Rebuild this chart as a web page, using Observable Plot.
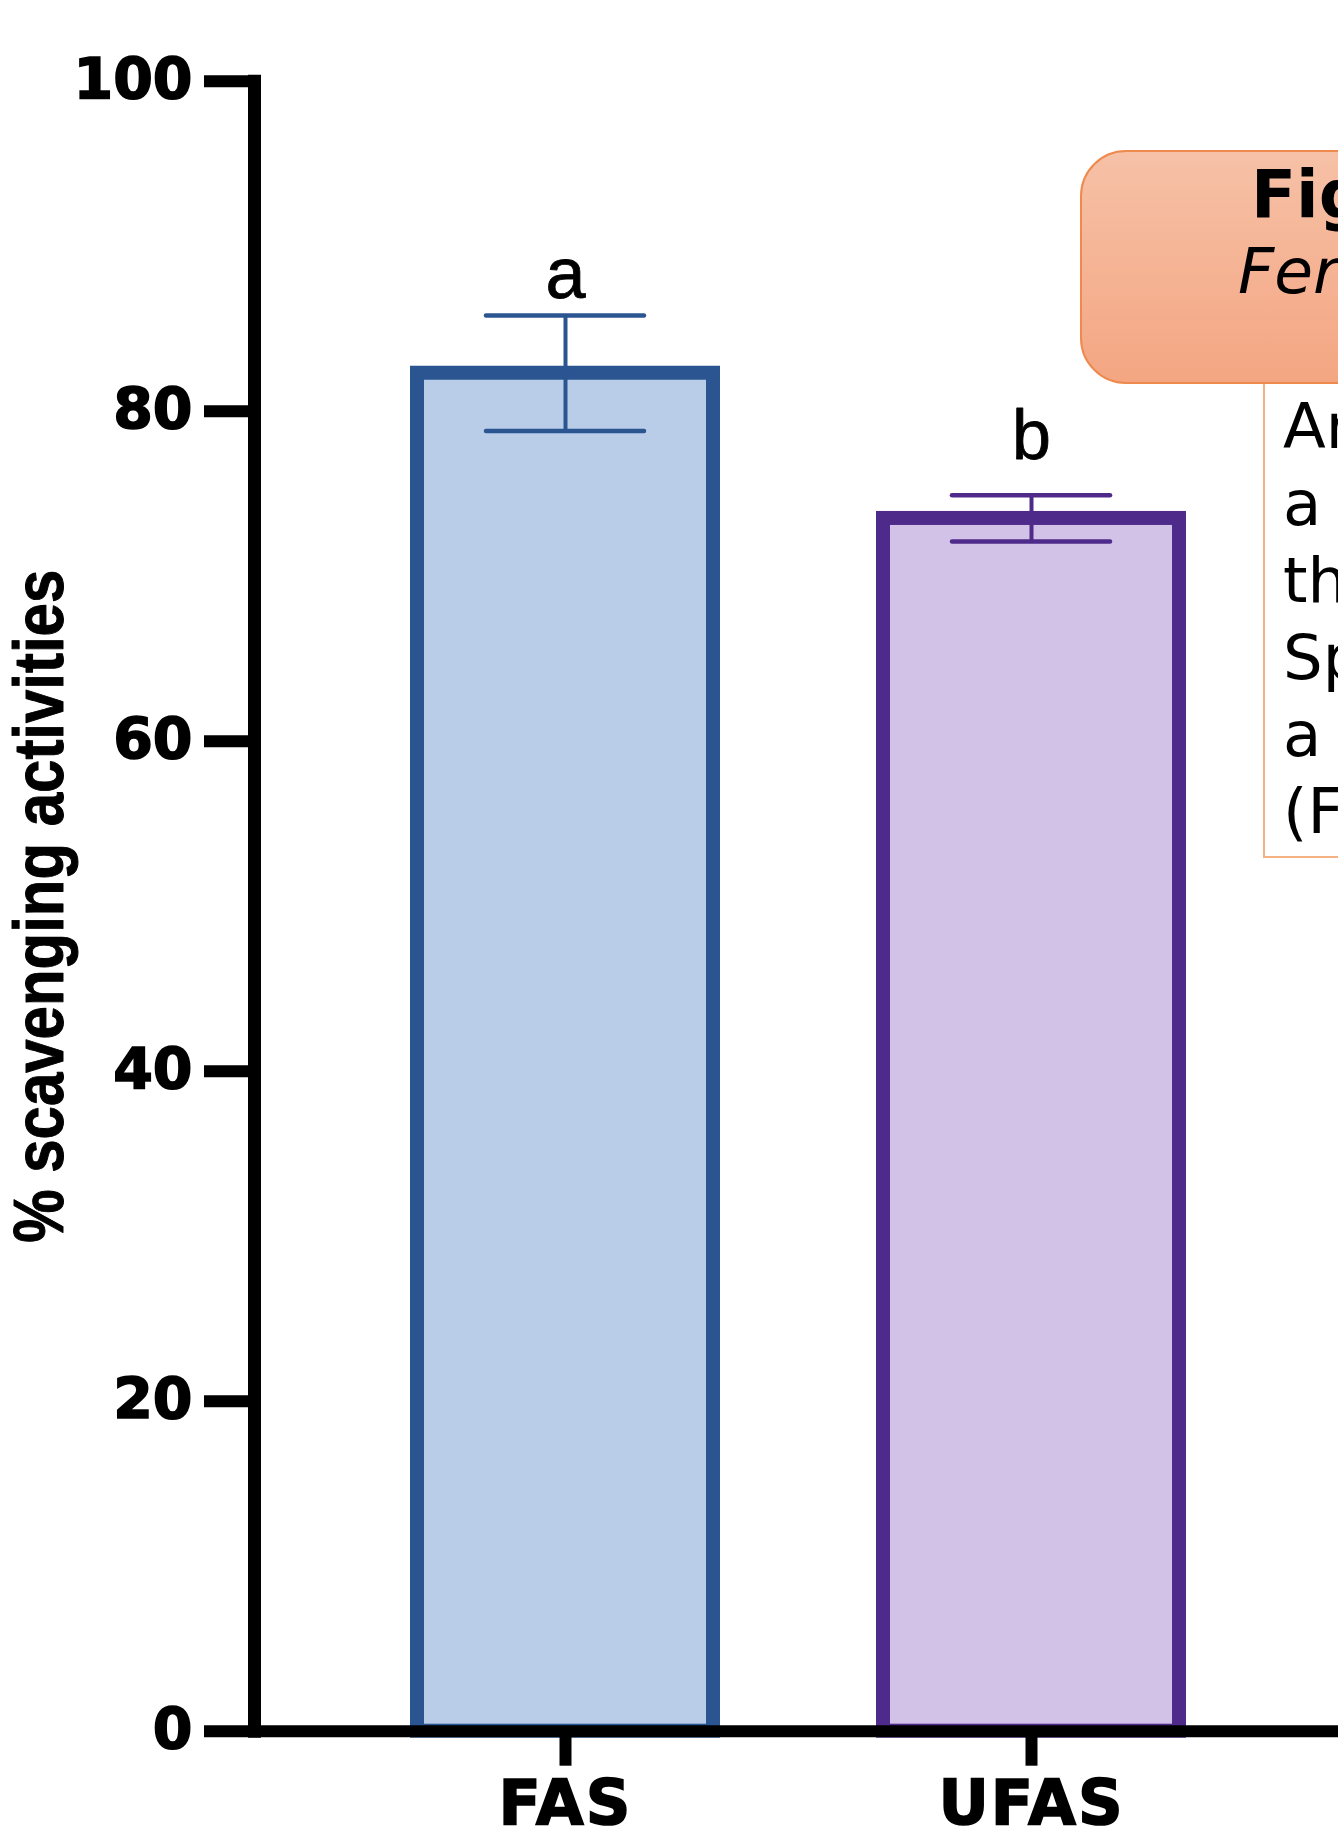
<!DOCTYPE html>
<html><head><meta charset="utf-8">
<script src="https://cdn.jsdelivr.net/npm/d3@7"></script>
<script src="https://cdn.jsdelivr.net/npm/@observablehq/plot@0.6"></script>
<style>
html,body{margin:0;padding:0;background:#fff;overflow:hidden;width:1338px;height:1826px;}
#wrap{position:relative;width:1338px;height:1826px;overflow:hidden;background:#fff;}
#chart svg{display:block}
.box1{position:absolute;left:1080px;top:150px;width:420px;height:234px;border:2px solid #EE8A4E;border-radius:46px;background:linear-gradient(#F6C1A7,#F4A682);box-sizing:border-box;}
.box2{position:absolute;left:1263px;top:382px;width:200px;height:476px;border:2px solid #F4B183;box-sizing:border-box;background:#fff}
.t{position:absolute;font-family:"DejaVu Sans";color:#000;white-space:nowrap;}
</style>
</head><body>
<div id="wrap">
  <div id="chart"></div>
  <div class="box2"></div>
  <div class="box1"></div>
  <div class="t" style="left:1251px;top:162px;font-size:66px;line-height:66px;font-weight:bold;">Fig</div>
  <div class="t" style="left:1238px;top:240px;font-size:63px;line-height:63px;font-style:italic;">Fer</div>
  <div class="t" style="left:1283px;top:388px;font-size:62.5px;line-height:77px;">Ar<br>a<br>th<br>Sp<br>a<br>(F</div>
</div>
<script>
// ---- data ----
const categories = ["FAS", "UFAS"];
const means = [82.3, 73.5];
const sems = [3.5, 1.4];
const letters = ["a", "b"];
const yTicks = [0, 20, 40, 60, 80, 100];
const yLabel = "% scavenging activities";

// ---- styles ----
const barFill = ["#B9CDE9", "#D3C2E8"];
const barStroke = ["#2B5591", "#4E2A8A"];

const rows = categories.map((c, i) => ({cat: c, value: means[i], err: sems[i], letter: letters[i], idx: i}));

const chart = Plot.plot({
  width: 1338, height: 1826,
  marginTop: 80.7, marginBottom: 95.3, marginLeft: 254, marginRight: 0,
  style: {background: "#fff", color: "#000", overflow: "visible"},
  x: {domain: categories, range: [254, 1343], paddingInner: 0.364, paddingOuter: 0.348, label: null},
  y: {domain: [0, 100], label: null},
  color: {type: "identity"},
  marks: [
    Plot.barY(rows, {x: "cat", y: "value", fill: d => barFill[d.idx], stroke: d => barStroke[d.idx], strokeWidth: 14}),
    Plot.ruleX(rows, {x: "cat", y1: d => d.value - d.err, y2: d => d.value + d.err, stroke: d => barStroke[d.idx], strokeWidth: 4}),
    Plot.tickY(rows, {x: "cat", y: d => d.value + d.err, stroke: d => barStroke[d.idx], strokeWidth: 4.5, insetLeft: 69, insetRight: 69, strokeLinecap: "round"}),
    Plot.tickY(rows, {x: "cat", y: d => d.value - d.err, stroke: d => barStroke[d.idx], strokeWidth: 4.5, insetLeft: 69, insetRight: 69, strokeLinecap: "round"}),
    Plot.text(rows.filter(d => d.idx === 0), {x: "cat", y: d => d.value + d.err, text: "letter", dy: -18, lineAnchor: "bottom", fontSize: 72, fontFamily: "Liberation Sans", fill: "#000", stroke: "#000", strokeWidth: 0.8}),
    Plot.text(rows.filter(d => d.idx === 1), {x: "cat", y: d => d.value + d.err, text: "letter", dy: -36, lineAnchor: "bottom", fontSize: 70, fontFamily: "Liberation Sans", fill: "#000", stroke: "#000", strokeWidth: 0.8}),
    Plot.ruleY([0], {stroke: "#000", strokeWidth: 12}),
    Plot.frame({anchor: "left", stroke: "#000", strokeWidth: 13, strokeLinecap: "square"}),
    Plot.axisY({ticks: yTicks, tickSize: 50, tickPadding: 12, strokeWidth: 12, fontSize: 57, fontWeight: "bold", fontFamily: "DejaVu Sans", label: null, tickFormat: d => String(d)}),
    Plot.axisX({tickSize: 35, tickPadding: 14, strokeWidth: 12, fontSize: 62, fontWeight: "bold", fontFamily: "DejaVu Sans", label: null}),
    Plot.text([yLabel], {frameAnchor: "left", textAnchor: "middle", rotate: -90, dx: -192, lineAnchor: "bottom", fontSize: 70, fontWeight: "bold", fontFamily: "Liberation Sans", fill: "#000", stroke: "#000", strokeWidth: 1})
  ]
});
document.getElementById("chart").appendChild(chart);
d3.select(chart).selectAll("text").filter(function() { return this.textContent === yLabel; })
  .attr("textLength", 673).attr("lengthAdjust", "spacingAndGlyphs");
// heavier tick labels, like the reference's black-weight face
d3.select(chart).selectAll('g[aria-label="y-axis tick label"] text, g[aria-label="x-axis tick label"] text')
  .attr("stroke", "#000").attr("stroke-width", 1.6);
d3.select(chart).selectAll('g[aria-label="x-axis tick label"] text').attr("letter-spacing", "2px");
</script>
</body></html>
